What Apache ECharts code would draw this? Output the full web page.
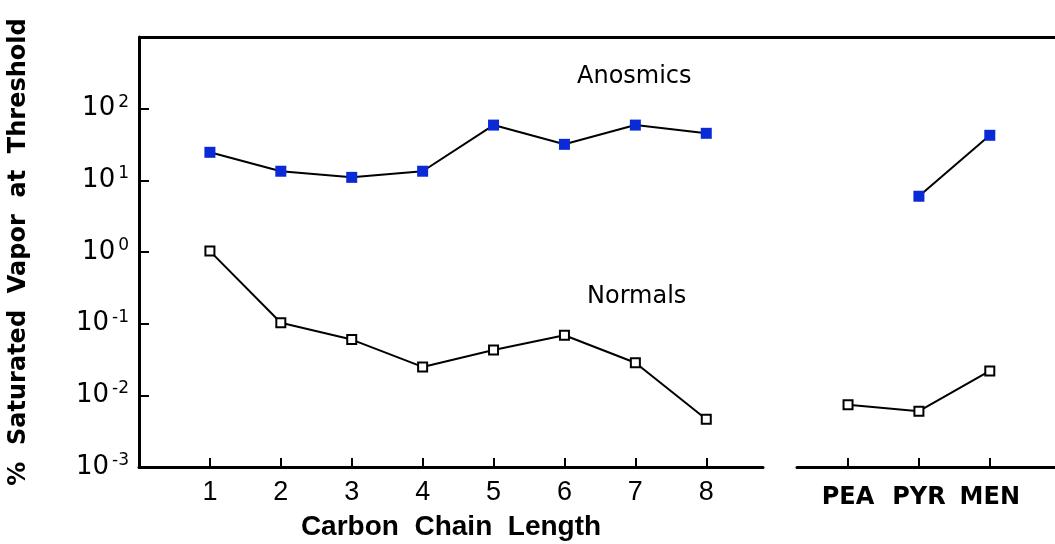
<!DOCTYPE html>
<html lang="en">

<head>
  <meta charset="UTF-8">
  <title>Threshold</title>
  <style>
    html,
    body {
      margin: 0;
      height: 100%;
      width: 100%;
      background: #fff;
    }
  </style>
</head>

<body>
  <div id="chart" style="width:1055px;height:544px"></div>
  <script src="https://cdn.jsdelivr.net/npm/echarts@6/dist/echarts.min.js"></script>
  <script>
    // carbon chain lengths (left panel) and odorants (right panel)
    const chainLengths = [1, 2, 3, 4, 5, 6, 7, 8]
    const odorants = ['PEA', 'PYR', 'MEN']

    // % saturated vapor at threshold
    const anosmicsChain = [24.6, 13.4, 11.0, 13.4, 59, 31.8, 59, 45.3]
    const normalsChain = [1.03, 0.103, 0.060, 0.0249, 0.043, 0.069, 0.0285, 0.00464]
    const anosmicsOdor = [null, 6.0, 42.5]
    const normalsOdor = [0.0074, 0.0060, 0.0219]

    const yTicks = [0.001, 0.01, 0.1, 1, 10, 100]

    const black = '#000'
    const blue = '#0a2ad8'
    const narrow = '"Liberation Sans Narrow", "Liberation Sans", sans-serif'
    const sans = '"DejaVu Sans", sans-serif'

    const pair = (xs, ys) => xs.map((x, i) => [x, ys[i]])
    const odorPos = odorants.map((n, i) => i + 1)

    function yLabel(v) {
      const e = Math.round(Math.log10(v))
      if (e >= 3) return ''
      return '10{sup|' + (e < 0 ? '-' + (-e) : e) + '}'
    }

    const yCommon = {
      type: 'log',
      logBase: 10,
      min: 0.001,
      max: 1000,
      splitLine: { show: false }
    }

    const anosStyle = {
      type: 'line',
      symbol: 'rect',
      symbolSize: 11,
      itemStyle: { color: blue, borderWidth: 0 },
      lineStyle: { color: black, width: 2 },
      emphasis: { disabled: true },
      z: 3
    }
    const normStyle = {
      type: 'line',
      symbol: 'rect',
      symbolSize: 9,
      itemStyle: { color: '#fff', borderColor: black, borderWidth: 2 },
      lineStyle: { color: black, width: 2 },
      emphasis: { disabled: true },
      z: 3
    }

    const option = {
      animation: false,
      backgroundColor: '#fff',
      grid: [
        { left: 139, right: 292, top: 37, bottom: 77, outerBoundsMode: 'none', containLabel: false },
        { left: 797, right: 0, top: 37, bottom: 77, outerBoundsMode: 'none', containLabel: false }
      ],
      xAxis: [{
        gridIndex: 0,
        type: 'value',
        min: 0,
        max: 8.8,
        interval: 1,
        splitLine: { show: false },
        axisLine: { lineStyle: { color: black, width: 3 } },
        axisTick: { inside: true, length: 9, customValues: chainLengths, lineStyle: { color: black, width: 2 } },
        axisLabel: { customValues: chainLengths, color: black, fontFamily: narrow, fontSize: 27, margin: 12 },
        name: 'Carbon  Chain  Length',
        nameLocation: 'middle',
        nameGap: 46,
        nameTextStyle: { color: black, fontFamily: narrow, fontWeight: 'bold', fontSize: 28 }
      }, {
        gridIndex: 1,
        type: 'value',
        min: 0.28,
        max: 3.92,
        interval: 1,
        splitLine: { show: false },
        axisLine: { lineStyle: { color: black, width: 3 } },
        axisTick: { inside: true, length: 9, customValues: odorPos, lineStyle: { color: black, width: 2 } },
        axisLabel: {
          customValues: odorPos,
          formatter: (v) => odorants[Math.round(v) - 1] || '',
          color: black, fontFamily: sans, fontWeight: 'bold', fontSize: 24, margin: 19
        }
      }],
      yAxis: [Object.assign({}, yCommon, {
        gridIndex: 0,
        axisLine: { show: true, lineStyle: { color: black, width: 3 } },
        axisTick: { inside: true, length: 10, customValues: yTicks, lineStyle: { color: black, width: 2 } },
        axisLabel: {
          customValues: yTicks,
          formatter: yLabel,
          color: black,
          fontFamily: sans,
          fontSize: 26,
          margin: 10,
          rich: {
            sup: { fontFamily: sans, fontSize: 17, padding: [0, 0, 13, 3], color: black }
          }
        },
        name: '%  Saturated  Vapor  at  Threshold',
        nameLocation: 'middle',
        nameRotate: 90,
        nameGap: 108,
        nameTextStyle: { color: black, fontFamily: sans, fontWeight: 'bold', fontSize: 24 }
      }), Object.assign({}, yCommon, {
        gridIndex: 1,
        show: false
      })],
      graphic: [{
        type: 'line',
        shape: { x1: 139, y1: 37.5, x2: 1055, y2: 37.5 },
        style: { stroke: black, lineWidth: 3 }
      }, {
        type: 'text',
        left: 577,
        top: 65,
        style: { text: 'Anosmics', fill: black, font: '24px "DejaVu Sans", sans-serif' }
      }, {
        type: 'text',
        left: 587,
        top: 285,
        style: { text: 'Normals', fill: black, font: '24px "DejaVu Sans", sans-serif' }
      }],
      series: [
        Object.assign({ name: 'Anosmics', xAxisIndex: 0, yAxisIndex: 0, data: pair(chainLengths, anosmicsChain) }, anosStyle),
        Object.assign({ name: 'Normals', xAxisIndex: 0, yAxisIndex: 0, data: pair(chainLengths, normalsChain) }, normStyle),
        Object.assign({ name: 'Anosmics odorants', xAxisIndex: 1, yAxisIndex: 1, data: pair(odorPos, anosmicsOdor) }, anosStyle),
        Object.assign({ name: 'Normals odorants', xAxisIndex: 1, yAxisIndex: 1, data: pair(odorPos, normalsOdor) }, normStyle)
      ]
    }

    const myChart = echarts.init(document.getElementById('chart'))
    myChart.setOption(option)
  </script>
</body>

</html>
